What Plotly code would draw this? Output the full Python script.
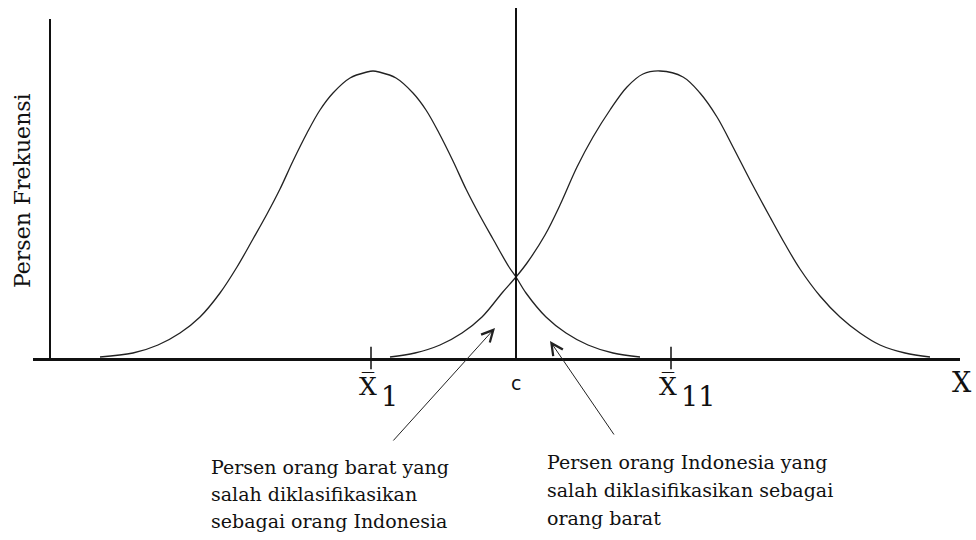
import plotly.graph_objects as go

# ---------------- data (x in axis units, y in percent-frequency units) ----------------
curve1_x = [10.0, 13.3, 15.8, 18.0, 20.0, 22.0, 23.7, 25.3, 26.7, 28.0, 29.3, 30.7, 32.0, 33.3,
            35.0, 36.7, 37.3, 37.9, 39.6, 41.3, 42.6, 43.9, 45.3, 46.6, 47.9, 49.3, 50.9, 51.6,
            52.6, 54.6, 56.6, 58.8, 61.3, 64.0]
curve1_y = [0.1, 0.5, 1.3, 2.5, 4.1, 6.5, 9.1, 11.9, 14.4, 16.9, 19.7, 22.5, 24.8, 26.5,
            28.0, 28.6, 28.7, 28.6, 28.0, 26.5, 24.8, 22.5, 19.7, 16.9, 14.4, 11.9, 9.1, 8.1,
            6.5, 4.1, 2.5, 1.3, 0.5, 0.1]

curve2_x = [39.0, 41.5, 44.0, 46.2, 48.2, 50.2, 51.6, 52.7, 54.5, 56.0, 57.7, 59.3, 61.0, 62.7,
            64.3, 66.0, 68.3, 70.0, 71.7, 73.3, 75.0, 77.0, 78.5, 80.0, 82.0, 84.0, 86.0, 88.0,
            90.5, 93.0]
curve2_y = [0.1, 0.5, 1.3, 2.5, 4.1, 6.5, 8.1, 9.5, 12.3, 15.3, 19.1, 22.1, 24.8, 27.1,
            28.4, 28.7, 28.1, 26.5, 24.1, 21.1, 17.8, 14.1, 11.4, 8.9, 6.2, 4.1, 2.5, 1.3,
            0.5, 0.1]

mean_x = [37.1, 67.1]
mean_subscripts = ["1", "11"]
c_value = 51.6

mean_symbol = "X\u0305"
cut_label = "c"
axis_end_label = "X"
y_title = "Persen Frekuensi"
left_note_lines = ["Persen orang barat yang", "salah diklasifikasikan", "sebagai orang Indonesia"]
right_note_lines = ["Persen orang Indonesia yang", "salah diklasifikasikan sebagai", "orang barat"]

# ---------------- figure ----------------
W, H = 976, 540
ML, MR, MT, MB = 33, 16, 8, 182
PW, PH = W - ML - MR, H - MT - MB


def px_x(p):
    return (p - ML) / PW


def px_y(p):
    return (H - MB - p) / PH


SERIF = "DejaVu Serif"
SANS = "DejaVu Sans"
INK = "#111111"

fig = go.Figure()
for xs, ys in ((curve1_x, curve1_y), (curve2_x, curve2_y)):
    fig.add_trace(go.Scatter(x=xs, y=ys, mode="lines",
                             line=dict(color="#222222", width=1.3, shape="spline", smoothing=1.0),
                             hoverinfo="skip", showlegend=False))

# tick marks for the two means
fig.add_trace(go.Scatter(x=mean_x, y=[0] * len(mean_x), mode="markers",
                         marker=dict(symbol="line-ns-open", size=16, color=INK,
                                     line=dict(color=INK, width=1.5)),
                         cliponaxis=False, hoverinfo="skip", showlegend=False))

# vertical cut line at c
fig.add_shape(type="line", xref="x", yref="paper", x0=c_value, x1=c_value, y0=0, y1=1,
              line=dict(color=INK, width=2))

ann = []
# mean labels
for mx, sub in zip(mean_x, mean_subscripts):
    ann.append(dict(x=mx, y=px_y(387), xref="x", yref="paper", text=mean_symbol,
                    showarrow=False, xanchor="center", yanchor="middle", xshift=-3,
                    font=dict(family=SERIF, size=25, color=INK)))
    ann.append(dict(x=mx, y=px_y(396), xref="x", yref="paper", text=sub,
                    showarrow=False, xanchor="left", yanchor="middle", xshift=8,
                    font=dict(family=SERIF, size=27, color=INK)))
ann.append(dict(x=c_value, y=px_y(383), xref="x", yref="paper", text=cut_label,
                showarrow=False, xanchor="center", yanchor="middle",
                font=dict(family=SANS, size=19, color=INK)))
ann.append(dict(x=px_x(962), y=px_y(382), xref="paper", yref="paper", text=axis_end_label,
                showarrow=False, xanchor="center", yanchor="middle",
                font=dict(family=SERIF, size=27, color=INK)))
ann.append(dict(x=px_x(22), y=px_y(191), xref="paper", yref="paper", text=y_title,
                showarrow=False, xanchor="center", yanchor="middle", textangle=-90,
                font=dict(family=SERIF, size=22, color=INK)))

# notes
for line, py in zip(left_note_lines, [467, 494, 521]):
    ann.append(dict(x=px_x(209), y=px_y(py), xref="paper", yref="paper", text=line,
                    showarrow=False, xanchor="left", yanchor="middle",
                    font=dict(family=SERIF, size=19, color=INK)))
for line, py in zip(right_note_lines, [462, 490, 518]):
    ann.append(dict(x=px_x(545), y=px_y(py), xref="paper", yref="paper", text=line,
                    showarrow=False, xanchor="left", yanchor="middle",
                    font=dict(family=SERIF, size=19, color=INK)))

# arrows
for (hx, hy), (tx, ty) in (((49.5, 3.0), (39.2, -8.4)), ((55.0, 1.7), (61.5, -7.8))):
    ann.append(dict(x=hx, y=hy, xref="x", yref="y", ax=tx, ay=ty, axref="x", ayref="y",
                    text="", showarrow=True, arrowhead=5, arrowsize=2.3, arrowwidth=1,
                    arrowcolor="#222222"))

fig.update_layout(
    width=W, height=H,
    margin=dict(l=ML, r=MR, t=MT, b=MB, pad=0),
    paper_bgcolor="white", plot_bgcolor="white",
    showlegend=False,
    annotations=ann,
    xaxis=dict(range=[ML / 10, (W - MR) / 10], showline=True, linewidth=3, linecolor=INK,
               showgrid=False, zeroline=False, showticklabels=False, ticks="", fixedrange=True),
    yaxis=dict(range=[0, 33.9], domain=[0, 33.9 / 35.0], showline=True, linewidth=2,
               linecolor=INK, anchor="free", position=px_x(50),
               showgrid=False, zeroline=False, showticklabels=False, ticks="", fixedrange=True),
)

fig.write_html("out.html", config={"displayModeBar": False},
               post_script="document.body.style.margin='0';")
